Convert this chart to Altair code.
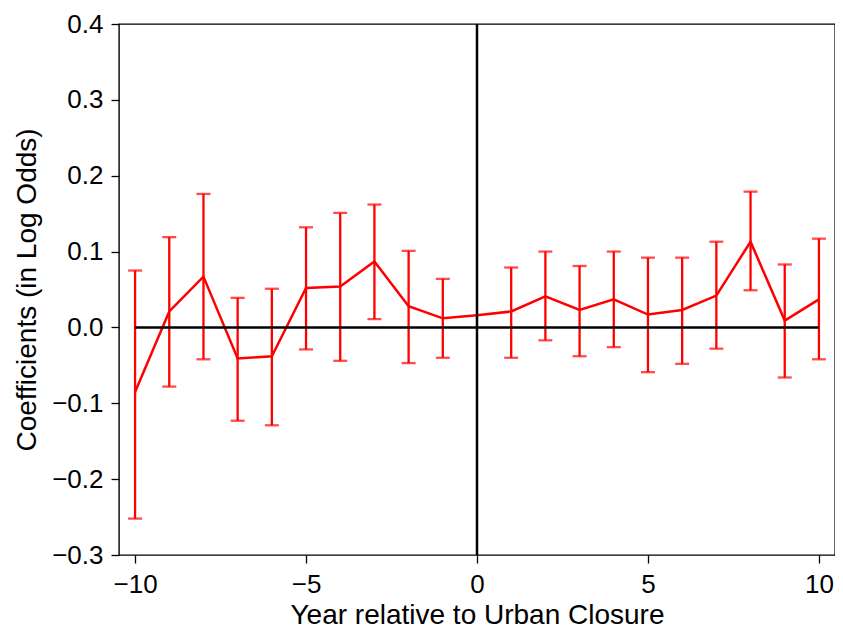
import altair as alt
import pandas as pd

years = list(range(-10, 11))
coef = [-0.085, 0.021, 0.067, -0.041, -0.038, 0.052, 0.054, 0.087, 0.028, 0.012,
        0.016, 0.021, 0.041, 0.023, 0.037, 0.017, 0.023, 0.042, 0.113, 0.009, 0.037]
upper = [0.075, 0.119, 0.176, 0.039, 0.051, 0.132, 0.151, 0.162, 0.101, 0.064,
         None, 0.079, 0.100, 0.081, 0.100, 0.092, 0.092, 0.113, 0.179, 0.083, 0.117]
lower = [-0.252, -0.078, -0.042, -0.123, -0.129, -0.029, -0.044, 0.011, -0.047, -0.040,
         None, -0.040, -0.017, -0.038, -0.026, -0.059, -0.048, -0.028, 0.049, -0.066, -0.042]

x_ticks = [-10, -5, 0, 5, 10]
y_ticks = [-0.3, -0.2, -0.1, 0.0, 0.1, 0.2, 0.3, 0.4]

df = pd.DataFrame({"year": years, "coef": coef, "upper": upper, "lower": lower})
err = df.dropna()
zero_df = pd.DataFrame({"x": [-10], "x2": [10], "y": [0.0]})
vline_df = pd.DataFrame({"x": [0]})

FONT = "Liberation Sans"
RED = "#ff0000"

xscale = alt.Scale(domain=[-10.47, 10.47], nice=False, zero=False)
yscale = alt.Scale(domain=[-0.3, 0.4], nice=False, zero=False)

xaxis = alt.Axis(values=x_ticks, format="d", title="Year relative to Urban Closure",
                 grid=False, domain=False, tickSize=8, tickWidth=1.3, tickColor="black",
                 labelPadding=8, labelFontSize=26, labelFont=FONT, labelColor="black",
                 titleFont=FONT, titleFontSize=28, titleFontWeight="normal", titleColor="black",
                 titleBaseline="alphabetic", titleY=68)
yaxis = alt.Axis(values=y_ticks, format=".1f", title="Coefficients (in Log Odds)",
                 grid=False, domain=False, tickSize=8, tickWidth=1.3, tickColor="black",
                 labelPadding=8, labelFontSize=26, labelFont=FONT, labelColor="black",
                 titleFont=FONT, titleFontSize=28, titleFontWeight="normal", titleColor="black",
                 titleBaseline="middle", titleX=-92)

base = alt.Chart(df)

line = base.mark_line(color=RED, strokeWidth=2.5).encode(
    x=alt.X("year:Q", scale=xscale, axis=xaxis),
    y=alt.Y("coef:Q", scale=yscale, axis=yaxis),
)

bars = alt.Chart(err).mark_rule(color=RED, strokeWidth=2.3).encode(
    x=alt.X("year:Q", scale=xscale),
    y=alt.Y("lower:Q", scale=yscale),
    y2="upper:Q",
)
cap_hi = alt.Chart(err).mark_tick(color=RED, size=14, thickness=2.3, orient="horizontal").encode(
    x=alt.X("year:Q", scale=xscale),
    y=alt.Y("upper:Q", scale=yscale),
)
cap_lo = alt.Chart(err).mark_tick(color=RED, size=14, thickness=2.3, orient="horizontal").encode(
    x=alt.X("year:Q", scale=xscale),
    y=alt.Y("lower:Q", scale=yscale),
)

hline = alt.Chart(zero_df).mark_rule(color="black", strokeWidth=2.5).encode(
    x=alt.X("x:Q", scale=xscale), x2="x2:Q", y=alt.Y("y:Q", scale=yscale)
)
vline = alt.Chart(vline_df).mark_rule(color="black", strokeWidth=2.5).encode(
    x=alt.X("x:Q", scale=xscale)
)

chart = alt.layer(line, bars, cap_hi, cap_lo, hline, vline).properties(
    width=716, height=531,
    autosize=alt.AutoSizeParams(type="none"),
    padding={"left": 111, "top": 16, "right": 0, "bottom": 78},
    background="white",
).configure_view(stroke="black", strokeWidth=1.4)

chart.save("out.html", embed_options={"renderer": "svg", "actions": False})
